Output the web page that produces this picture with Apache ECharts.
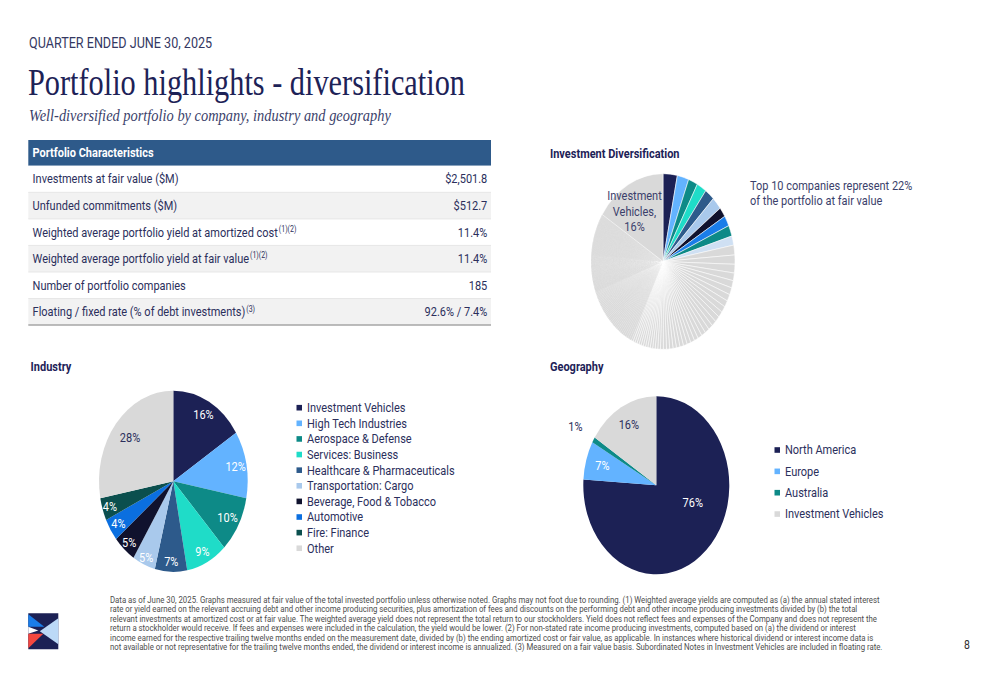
<!DOCTYPE html>
<html><head><meta charset="utf-8">
<script src="https://cdn.jsdelivr.net/npm/echarts@6/dist/echarts.min.js"></script>
<style>
html,body{margin:0;padding:0;background:#fff;overflow:hidden;}
#wrap{position:absolute;left:0;top:0;width:1000px;height:685px;overflow:hidden;background:#fff;}
#chart{position:absolute;left:0;top:0;width:1000px;height:562px;transform-origin:0 0;transform:scaleY(1.22);}
</style></head>
<body><div id="wrap"><div id="chart"></div></div>
<script>
// ---------------- data ----------------
const tableTitle = 'Portfolio Characteristics';
const tableLabels = ['Investments at fair value ($M)', 'Unfunded commitments ($M)', 'Weighted average portfolio yield at amortized cost', 'Weighted average portfolio yield at fair value', 'Number of portfolio companies', 'Floating / fixed rate (% of debt investments)'];
const tableNotes = ['', '', '(1)(2)', '(1)(2)', '', '(3)'];
const tableValues = ['$2,501.8', '$512.7', '11.4%', '11.4%', '185', '92.6% / 7.4%'];

const industryNames = ['Investment Vehicles', 'High Tech Industries', 'Aerospace & Defense', 'Services: Business', 'Healthcare & Pharmaceuticals', 'Transportation: Cargo', 'Beverage, Food & Tobacco', 'Automotive', 'Fire: Finance', 'Other'];
const industryValues = [16, 12, 10, 9, 7, 5, 5, 4, 4, 28];

const geographyNames = ['North America', 'Europe', 'Australia', 'Investment Vehicles'];
const geographyValues = [76, 7, 1, 16];

const top10Values = [3.2, 2.6, 2.1, 2.2, 2.2, 2.3, 1.8, 1.9, 2.0, 1.7];
const otherCompanyValues = [
  1.8, 1.7, 1.6,
  1.4, 1.35, 1.3, 1.25, 1.2, 1.15, 1.1, 1.1, 1.05, 1.0, 1.0, 0.95, 0.95, 0.9, 0.9, 0.85, 0.85, 0.8, 0.8, 0.75, 0.75, 0.7, 0.7, 0.65, 0.6,
  0.58, 0.56, 0.55, 0.54, 0.52, 0.51, 0.50, 0.49, 0.48, 0.47,
  0.46, 0.45, 0.44, 0.43, 0.42, 0.42, 0.41, 0.40, 0.40, 0.39,
  0.38, 0.38, 0.37, 0.37, 0.36, 0.36, 0.35, 0.35, 0.34, 0.34,
  0.33, 0.33, 0.32, 0.32, 0.31, 0.31, 0.30, 0.30, 0.29, 0.29,
  0.28, 0.28, 0.27, 0.27, 0.26, 0.26, 0.25, 0.25, 0.24, 0.24,
  0.23, 0.23, 0.22, 0.22, 0.21, 0.21, 0.20, 0.20, 0.19, 0.19,
  0.18, 0.18, 0.17, 0.17, 0.16, 0.16, 0.15, 0.15, 0.14, 0.14,
  0.14, 0.14, 0.14, 0.14, 0.14, 0.14, 0.14, 0.14, 0.14, 0.14, 0.14, 0.14, 0.14, 0.14, 0.14, 0.14, 0.14, 0.14, 0.14, 0.14, 0.14, 0.14, 0.14, 0.14, 0.14,
  0.135, 0.135, 0.135, 0.135, 0.135, 0.135, 0.135, 0.135, 0.135, 0.135, 0.135, 0.135, 0.135, 0.135, 0.135, 0.135, 0.135, 0.135, 0.135, 0.135, 0.135, 0.135, 0.135, 0.135, 0.135, 0.135,
  0.13, 0.13, 0.13, 0.13, 0.13, 0.13, 0.13, 0.13, 0.13, 0.13, 0.13, 0.13, 0.13, 0.13, 0.13, 0.13, 0.13, 0.13, 0.13, 0.13, 0.13, 0.13, 0.13, 0.13, 0.13, 0.13
];
const investmentVehiclesValue = 16;

const footnoteLines = [
  'Data as of June 30, 2025. Graphs measured at fair value of the total invested portfolio unless otherwise noted. Graphs may not foot due to rounding. (1) Weighted average yields are computed as (a) the annual stated interest',
  'rate or yield earned on the relevant accruing debt and other income producing securities, plus amortization of fees and discounts on the performing debt and other income producing investments divided by (b) the total',
  'relevant investments at amortized cost or at fair value. The weighted average yield does not represent the total return to our stockholders. Yield does not reflect fees and expenses of the Company and does not represent the',
  'return a stockholder would receive. If fees and expenses were included in the calculation, the yield would be lower. (2) For non-stated rate income producing investments, computed based on (a) the dividend or interest',
  'income earned for the respective trailing twelve months ended on the measurement date, divided by (b) the ending amortized cost or fair value, as applicable. In instances where historical dividend or interest income data is',
  'not available or not representative for the trailing twelve months ended, the dividend or interest income is annualized. (3) Measured on a fair value basis. Subordinated Notes in Investment Vehicles are included in floating rate.'
];

// ---------------- styles ----------------
const K = 1.22;                 // vertical stretch of the slide
const Y = v => v / K;
const SANS = 'Roboto, "Noto Sans", sans-serif';
const SERIF = '"Liberation Serif", "DejaVu Serif", serif';
const NAVY = '#1d2257';
const TEXT = '#2b2f5c';
const GRAY = '#d9d9d9';
const industryColors = ['#1c2155', '#63b3ff', '#0d8a87', '#1fdcc8', '#2d5a8b', '#a9c9ec', '#10122e', '#0b6fe0', '#0b4f4e', '#d9d9d9'];
const industryLabelColors = ['#fff', '#fff', '#fff', '#fff', '#fff', '#fff', '#fff', '#fff', '#fff', TEXT];
const geoColors = ['#1c2155', '#63b3ff', '#0d8a87', '#d9d9d9'];
const geoLabelColors = ['#fff', '#fff', TEXT, TEXT];
const top10Colors = ['#1c2155', '#63b3ff', '#0d8a87', '#1fdcc8', '#2d5a8b', '#a9c9ec', '#10122e', '#1a7de8', '#0d8a87', '#cfe0f3'];

const ctx = document.createElement('canvas').getContext('2d');
function measure(text, font) { ctx.font = font; return ctx.measureText(text).width; }
function fitSize(text, fam, weight, target) {
  const w = measure(text, weight + ' 20px ' + fam);
  return 20 * target / w;
}

function txt(text, x, y, o) {
  o = o || {};
  return {
    type: 'text', silent: true, z: 10,
    style: {
      text: text, x: x, y: Y(y), fill: o.fill || TEXT,
      font: o.font || ('11px ' + SANS),
      textAlign: o.align || 'left', textVerticalAlign: o.va || 'middle'
    }
  };
}

const graphics = [];
// header
graphics.push(txt('QUARTER ENDED JUNE 30, 2025', 29, 42.5, { font: '12.6px ' + SANS, fill: '#343862' }));
const tSize = fitSize('Portfolio highlights - diversification', SERIF, 'normal', 437);
graphics.push(txt('Portfolio highlights - diversification', 28, 82, { font: tSize.toFixed(2) + 'px ' + SERIF, fill: NAVY }));
const sSize = fitSize('Well-diversified portfolio by company, industry and geography', SERIF, 'italic', 362);
graphics.push(txt('Well-diversified portfolio by company, industry and geography', 29, 115, { font: 'italic ' + sSize.toFixed(2) + 'px ' + SERIF, fill: '#3b3f6b' }));

// table
const tx0 = 28.3, tx1 = 491, rowTop = 165.8, rowH = 26.55;
graphics.push({ type: 'rect', silent: true, shape: { x: tx0, y: Y(140), width: tx1 - tx0, height: Y(165.8) - Y(140) }, style: { fill: '#2e5a8a' } });
graphics.push(txt(tableTitle, 32.6, 153, { font: 'bold 11px ' + SANS, fill: '#ffffff' }));
tableLabels.forEach(function (lab, i) {
  const top = rowTop + i * rowH;
  graphics.push({ type: 'rect', silent: true, shape: { x: tx0, y: Y(top), width: tx1 - tx0, height: Y(rowH) }, style: { fill: i % 2 === 1 ? '#f2f2f2' : '#ffffff' } });
  if (i > 0) graphics.push({ type: 'line', silent: true, shape: { x1: tx0, y1: Y(top), x2: tx1, y2: Y(top) }, style: { stroke: '#e4e4e4', lineWidth: 0.8 } });
  const cy = top + rowH / 2;
  graphics.push(txt(lab, 32.6, cy));
  if (tableNotes[i]) {
    const w = measure(lab, '11px ' + SANS);
    graphics.push(txt(tableNotes[i], 32.6 + w + 0.6, cy - 3.0, { font: '7px ' + SANS }));
  }
  graphics.push(txt(tableValues[i], 487.3, cy, { align: 'right' }));
});
graphics.push({ type: 'line', silent: true, shape: { x1: tx0, y1: Y(rowTop + 6 * rowH), x2: tx1, y2: Y(rowTop + 6 * rowH) }, style: { stroke: '#a6a6a6', lineWidth: 1.2 } });

// section titles
graphics.push(txt('Investment Diversification', 550, 154, { font: 'bold 11px ' + SANS, fill: NAVY }));
graphics.push(txt('Industry', 30.6, 366.5, { font: 'bold 11px ' + SANS, fill: NAVY }));
graphics.push(txt('Geography', 550, 366.5, { font: 'bold 11px ' + SANS, fill: NAVY }));
graphics.push(txt('Top 10 companies represent 22%', 750, 185.5, { fill: '#3b3f6b' }));
graphics.push(txt('of the portfolio at fair value', 750, 201, { fill: '#3b3f6b' }));

// footnote
const fSize = fitSize(footnoteLines[0], SANS, 'normal', 771);
footnoteLines.forEach(function (l, i) {
  graphics.push(txt(l, 110, 599.5 + i * 9.45, { font: fSize.toFixed(2) + 'px ' + SANS, fill: '#4d4d4d' }));
});
graphics.push(txt('8', 967, 645, { font: '10.5px ' + SANS, fill: '#333333', align: 'center' }));

// logo
const LX = 28.3, LY = 613.3;
function lp(pts) { return pts.map(function (p) { return [LX + p[0], Y(LY + p[1])]; }); }
graphics.push({ type: 'rect', silent: true, shape: { x: LX, y: Y(LY), width: 30, height: Y(36) }, style: { fill: '#1c2155' } });
graphics.push({ type: 'polygon', silent: true, shape: { points: lp([[0, 1], [16, 13.5], [0, 13.5]]) }, style: { fill: '#1a7de8' } });
graphics.push({ type: 'polygon', silent: true, shape: { points: lp([[30, 5], [30, 31], [11.5, 18]]) }, style: { fill: '#bcd9f7' } });
graphics.push({ type: 'polygon', silent: true, shape: { points: lp([[0, 13.5], [10, 17.2], [0, 20.5]]) }, style: { fill: '#ffffff' } });
graphics.push({ type: 'polygon', silent: true, shape: { points: lp([[0, 20.5], [15, 20.5], [0, 35]]) }, style: { fill: '#f4473f' } });

// ---------------- pies ----------------
const divC = [663, Y(261.5)], divR = 72;
const indC = [173.3, Y(481.3)], indR = 74.3;
const geoC = [656.3, Y(485.2)], geoR = 73;

// soft backdrop under the finely sliced pie so anti-aliased seams read as light grey
graphics.push({ type: 'circle', silent: true, z: 0, shape: { cx: divC[0], cy: divC[1], r: divR - 0.6 }, style: { fill: '#e0e0e0' } });

// moves each library-placed inside label along / around its radial direction
function radial(c, factors, turns) {
  return function (p) {
    const r = p.labelRect;
    const f = Array.isArray(factors) ? factors[p.dataIndex] : factors;
    const t = Array.isArray(turns) ? turns[p.dataIndex] : (turns || 0);
    const a = t * Math.PI / 180;
    const dx = r.x + r.width / 2 - c[0], dy = r.y + r.height / 2 - c[1];
    const rx = dx * Math.cos(a) - dy * Math.sin(a), ry = dx * Math.sin(a) + dy * Math.cos(a);
    return { x: c[0] + rx * f, y: c[1] + ry * f, align: 'center', verticalAlign: 'middle' };
  };
}

// separator width: thinner for the very fine slices
function sepWidth(v) { return v >= 0.45 ? 0.5 : (v >= 0.25 ? 0.14 : 0.05); }

const divData = [];
top10Values.forEach(function (v, i) { divData.push({ name: 'Top company ' + (i + 1), value: v, itemStyle: { color: top10Colors[i], borderWidth: 0.5 } }); });
otherCompanyValues.forEach(function (v, i) { divData.push({ name: 'Portfolio company ' + (i + 11), value: v, itemStyle: { color: GRAY, borderWidth: sepWidth(v) } }); });
divData.push({
  name: 'Investment Vehicles', value: investmentVehiclesValue, itemStyle: { color: GRAY, borderWidth: 0.5 },
  label: { show: true, formatter: 'Investment\nVehicles,\n{c}%', color: '#3b3f6b', fontSize: 11, lineHeight: 12.8, fontFamily: SANS, align: 'center' }
});

const indData = industryNames.map(function (n, i) {
  return { name: n, value: industryValues[i], itemStyle: { color: industryColors[i] }, label: { color: industryLabelColors[i] } };
});
const geoData = geographyNames.map(function (n, i) {
  return { name: n, value: geographyValues[i], itemStyle: { color: geoColors[i] }, label: { color: geoLabelColors[i] } };
});

const labelBase = { show: true, position: 'inside', fontSize: 11, fontFamily: SANS, formatter: '{c}%' };

const option = {
  animation: false,
  backgroundColor: 'transparent',
  graphic: { elements: graphics },
  legend: [
    {
      orient: 'vertical', left: 296.5, top: Y(407.7) - 6, padding: 0, icon: 'rect', itemWidth: 5.5, itemHeight: 4.6, itemGap: 0.8,
      selectedMode: false,
      textStyle: { fontSize: 11, fontFamily: SANS, color: TEXT, lineHeight: 12 },
      data: industryNames.map(function (n, i) { return { name: n, itemStyle: { color: industryColors[i], borderWidth: 0 } }; })
    },
    {
      orient: 'vertical', left: 774.5, top: Y(450) - 6, padding: 0, icon: 'rect', itemWidth: 5.5, itemHeight: 4.6, itemGap: 5.5,
      selectedMode: false,
      textStyle: { fontSize: 11, fontFamily: SANS, color: TEXT, lineHeight: 12 },
      data: geographyNames.map(function (n, i) { return { name: n, itemStyle: { color: geoColors[i], borderWidth: 0 } }; })
    }
  ],
  series: [
    {
      type: 'pie', name: 'Investment Diversification', center: divC, radius: [0, divR], startAngle: 90, clockwise: true,
      silent: true, emphasis: { disabled: true }, z: 3,
      itemStyle: { borderColor: '#ffffff' },
      label: { show: false, position: 'inside' }, labelLine: { show: false },
      labelLayout: radial(divC, 1.28, -6),
      data: divData
    },
    {
      type: 'pie', name: 'Industry', center: indC, radius: [0, indR], startAngle: 90, clockwise: true,
      silent: true, emphasis: { disabled: true },
      itemStyle: { borderWidth: 0 },
      label: labelBase, labelLine: { show: false },
      labelLayout: radial(indC, [1.56, 1.58, 1.54, 1.6, 1.64, 1.7, 1.66, 1.62, 1.66, 1.4]),
      data: indData
    },
    {
      type: 'pie', name: 'Geography', center: geoC, radius: [0, geoR], startAngle: 90, clockwise: true,
      silent: true, emphasis: { disabled: true },
      itemStyle: { borderWidth: 0 },
      label: labelBase, labelLine: { show: false },
      labelLayout: radial(geoC, [0.99, 1.42, 2.38, 1.44], [-25.8, 0, 0, 0]),
      data: geoData
    }
  ]
};

const chart = echarts.init(document.getElementById('chart'), null, { renderer: 'svg', width: 1000, height: 562 });
chart.setOption(option);
</script>
</body></html>
